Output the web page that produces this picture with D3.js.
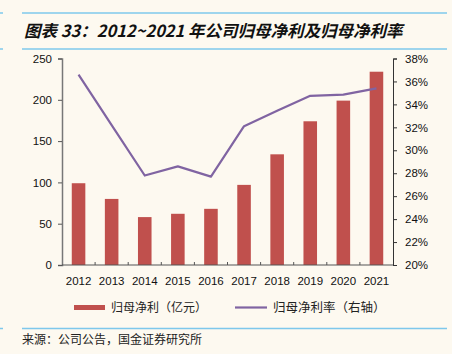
<html>
<head>
  <meta charset="utf-8">
  <script src="https://d3js.org/d3.v7.min.js"></script>
  <style>
    body { margin: 0; background: #fdf9f0; }
    text { font-family: "Liberation Sans", Arial, sans-serif; }
    .cjk { font-family: "Noto Sans CJK SC", sans-serif; }
  </style>
</head>
<body>
<svg id="chart" width="452" height="354"></svg>
<script>
var years = ["2012","2013","2014","2015","2016","2017","2018","2019","2020","2021"];
var profit = [99, 80, 58, 62, 68, 97, 134, 174, 199, 234];      // 归母净利（亿元）
var margin = [36.6, 32.2, 27.8, 28.6, 27.7, 32.1, 33.45, 34.75, 34.85, 35.4]; // 归母净利率 %
var leftTicks = [0, 50, 100, 150, 200, 250];
var rightTicks = [20, 22, 24, 26, 28, 30, 32, 34, 36, 38];

var svg = d3.select("#chart");
var pl = 62, pr = 393, pt = 58.5, pb = 265;

svg.append("rect").attr("width", 452).attr("height", 354).attr("fill", "#fdf9f0");

// title bars
var blue = "#7ec8ec";
[13, 49].forEach(function(y) {
  svg.append("line").attr("x1", 22).attr("x2", 447).attr("y1", y).attr("y2", y)
    .attr("stroke", blue).attr("stroke-width", 1.5);
  svg.append("line").attr("x1", 0).attr("x2", 3).attr("y1", y).attr("y2", y)
    .attr("stroke", blue).attr("stroke-width", 1.5);
});
svg.append("text").attr("class", "cjk").attr("x", 24).attr("y", 37)
  .attr("font-size", 16.5).attr("font-weight", "bold").attr("font-style", "italic").attr("fill", "#111")
  .text("图表 33：2012~2021 年公司归母净利及归母净利率");

var x = d3.scaleBand().domain(years).range([pl, pr]).paddingInner(0.59).paddingOuter(0.295);
var xb = d3.scaleBand().domain(years).range([pl, pr]);
var yL = d3.scaleLinear().domain([0, 250]).range([pb, pt]);
var yR = d3.scaleLinear().domain([20, 38]).range([pb, pt]);

// bars
svg.selectAll(".bar").data(profit).enter().append("rect")
  .attr("x", (d, i) => x(years[i])).attr("width", x.bandwidth())
  .attr("y", d => yL(d)).attr("height", d => pb - yL(d))
  .attr("fill", "#c0504d");

// line
var line = d3.line().x((d, i) => xb(years[i]) + xb.bandwidth() / 2).y(d => yR(d));
svg.append("path").datum(margin).attr("d", line)
  .attr("fill", "none").attr("stroke", "#8064a2").attr("stroke-width", 2.2).attr("stroke-linejoin", "round");

// left axis
var gL = svg.append("g").attr("transform", "translate(" + pl + ",0)")
  .call(d3.axisLeft(yL).tickValues(leftTicks).tickSize(4).tickPadding(6));
gL.select(".domain").attr("stroke", "#777").attr("stroke-width", 1.5);
gL.selectAll(".tick line").attr("stroke", "#555");
gL.selectAll("text").attr("font-size", 11.5).attr("fill", "#111").attr("font-family", "Liberation Sans, Arial");

// right axis
var gR = svg.append("g").attr("transform", "translate(" + pr + ",0)")
  .call(d3.axisRight(yR).tickValues(rightTicks).tickSize(4).tickPadding(8).tickFormat(d => d + "%"));
gR.select(".domain").attr("stroke", "#333");
gR.selectAll(".tick line").attr("stroke", "#333");
gR.selectAll("text").attr("font-size", 11.5).attr("fill", "#111").attr("font-family", "Liberation Sans, Arial");

// bottom axis
svg.append("line").attr("x1", pl).attr("x2", pr).attr("y1", pb).attr("y2", pb)
  .attr("stroke", "#555").attr("stroke-width", 1.2);
svg.selectAll(".xt").data(years.slice(1)).enter().append("line")
  .attr("x1", d => xb(d)).attr("x2", d => xb(d)).attr("y1", pb).attr("y2", pb - 3)
  .attr("stroke", "#555");
svg.selectAll(".xl").data(years).enter().append("text")
  .attr("x", d => xb(d) + xb.bandwidth() / 2).attr("y", pb + 20)
  .attr("text-anchor", "middle").attr("font-size", 11.5).attr("fill", "#111").text(d => d);

// legend
svg.append("rect").attr("x", 74).attr("y", 305).attr("width", 31).attr("height", 5).attr("fill", "#c0504d");
svg.append("text").attr("class", "cjk").attr("x", 111).attr("y", 312).attr("font-size", 12).attr("fill", "#222")
  .text("归母净利（亿元）");
svg.append("line").attr("x1", 235).attr("x2", 267).attr("y1", 307.5).attr("y2", 307.5)
  .attr("stroke", "#8064a2").attr("stroke-width", 2.2);
svg.append("text").attr("class", "cjk").attr("x", 273).attr("y", 312).attr("font-size", 12.5).attr("fill", "#222")
  .text("归母净利率（右轴）");

// source
svg.append("line").attr("x1", 22).attr("x2", 447).attr("y1", 328.5).attr("y2", 328.5)
  .attr("stroke", blue).attr("stroke-width", 1.5);
svg.append("line").attr("x1", 0).attr("x2", 3).attr("y1", 328.5).attr("y2", 328.5).attr("stroke", blue).attr("stroke-width", 1.5);
svg.append("text").attr("class", "cjk").attr("x", 22).attr("y", 344).attr("font-size", 12).attr("fill", "#222")
  .text("来源：公司公告，国金证券研究所");
</script>
</body>
</html>
